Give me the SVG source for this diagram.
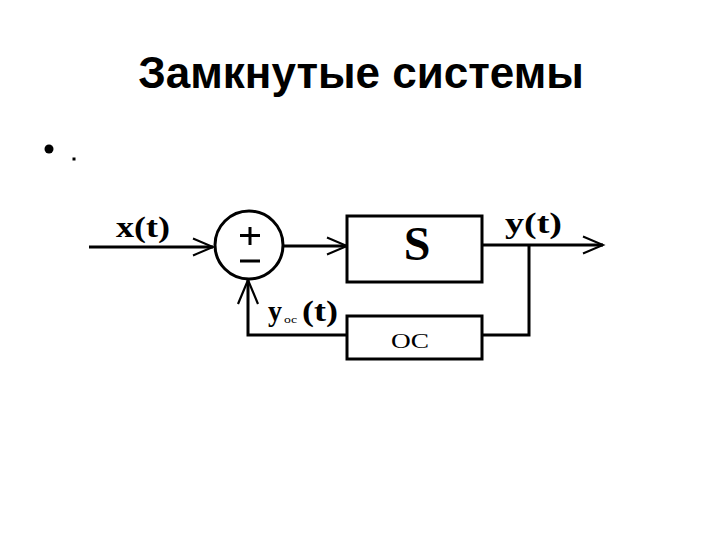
<svg xmlns="http://www.w3.org/2000/svg" width="720" height="540" viewBox="0 0 720 540">
<style>
.ln{fill:none;stroke:#000;stroke-width:3}
.bx{fill:#fff;stroke:#000;stroke-width:3}
.serif{font-family:"Liberation Serif","Times New Roman",serif;font-weight:bold;fill:#000}
</style>
<defs>
<marker id="chev" markerUnits="userSpaceOnUse" markerWidth="24" markerHeight="22" refX="21" refY="11" orient="auto" viewBox="0 0 24 22">
<path d="M1,2.5 L21,11 L1,19.5" fill="none" stroke="#000" stroke-width="2"/>
</marker>
<marker id="chevl" markerUnits="userSpaceOnUse" markerWidth="28" markerHeight="24" refX="25" refY="12" orient="auto" viewBox="0 0 28 24">
<path d="M1,2 L25,12 L1,22" fill="none" stroke="#000" stroke-width="2.2"/>
</marker>
</defs>
<rect width="720" height="540" fill="#fff"/>
<text x="361" y="88" text-anchor="middle" font-family="Liberation Sans, Arial, sans-serif" font-weight="bold" font-size="44">Замкнутые системы</text>
<circle cx="49" cy="149" r="4.5" fill="#000"/>
<rect x="72.5" y="157.5" width="3" height="3" fill="#000"/>
<g id="connectors">
<path class="ln" d="M89,247 H213" marker-end="url(#chev)"/>
<path class="ln" d="M284,246 H347" marker-end="url(#chev)"/>
<path class="ln" d="M482,245 H603" marker-end="url(#chev)"/>
<path class="ln" d="M529,245 V335 H482"/>
<path class="ln" d="M347,335 H248 V280" marker-end="url(#chevl)"/>
</g>
<g id="sum">
<circle class="bx" cx="249" cy="245" r="34"/>
<path d="M240,235.5 H260 M250,227 V245 M240,261 H260" stroke="#000" stroke-width="3" fill="none"/>
</g>
<g id="S">
<rect class="bx" x="347" y="216" width="135" height="66"/>
<text class="serif" x="417" y="260" text-anchor="middle" font-size="48">S</text>
</g>
<g id="OC">
<rect class="bx" x="347" y="316" width="135" height="43"/>
<text x="391" y="348" textLength="38" lengthAdjust="spacingAndGlyphs" font-family="Liberation Serif, serif" font-size="22">OC</text>
</g>
<g id="labels">
<text class="serif" x="116" y="237" textLength="54" lengthAdjust="spacingAndGlyphs" font-size="29">x(t)</text>
<text class="serif" x="505" y="233" textLength="57" lengthAdjust="spacingAndGlyphs" font-size="29">y(t)</text>
<text class="serif" x="268" y="321" textLength="14" lengthAdjust="spacingAndGlyphs" font-size="29">y</text>
<text x="284" y="323" textLength="13" lengthAdjust="spacingAndGlyphs" font-family="Liberation Serif, serif" font-size="11">oc</text>
<text class="serif" x="302" y="321" textLength="36" lengthAdjust="spacingAndGlyphs" font-size="29">(t)</text>
</g>
</svg>
